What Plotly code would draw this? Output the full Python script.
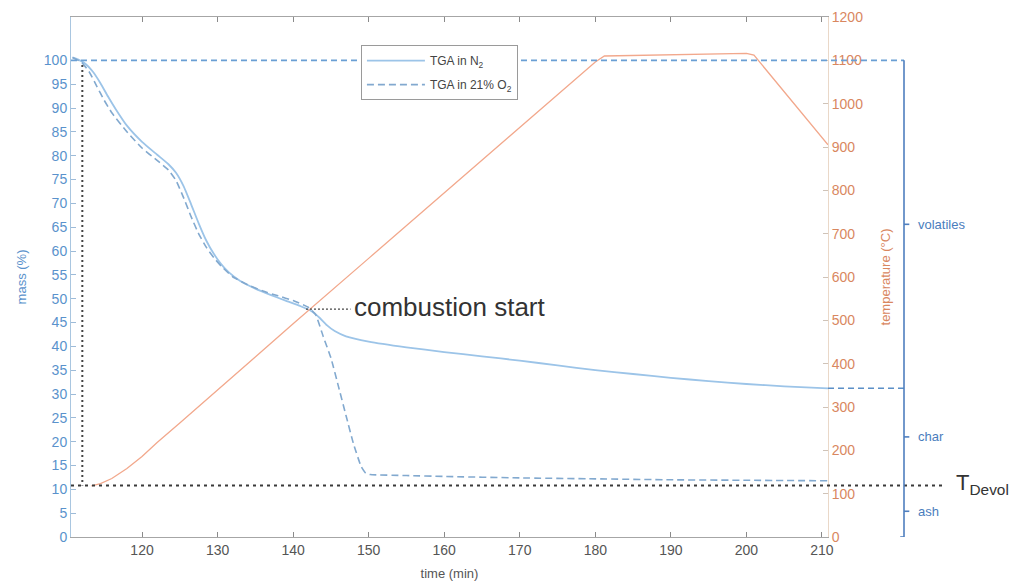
import plotly.graph_objects as go

# ---- TGA mass-loss curves (time in min, mass in %) ----
time_n2 = [110.8, 111.5, 112.5, 113.5, 114.5, 115.5, 116.5, 118, 120, 122, 123.5, 124.5,
           125.5, 126.5, 127.5, 128.5, 129.5, 130.5, 131.5, 133, 135, 137, 139, 141, 142.5, 143.5,
           144.5, 145.5, 147, 150, 155, 160, 165, 170, 175, 180, 185, 190, 195, 200, 205, 210.8]
mass_n2 = [100.6, 100.2, 99.3, 97.6, 95.2, 92.4, 89.8, 86.3, 82.9, 80.2, 78.2, 76.4,
           73.6, 69.8, 65.8, 62.2, 59.4, 57.2, 55.5, 53.7, 52.1, 50.8, 49.6, 48.4, 47.3, 46.0,
           44.4, 43.2, 42.1, 41.0, 39.8, 38.8, 37.9, 37.0, 36.0, 35.0, 34.2, 33.4, 32.7, 32.1, 31.6, 31.2]

time_o2 = [110.8, 112, 113, 114, 115, 116, 118, 120, 122, 123.5, 124.5, 125.5, 126.5, 127.5,
           128.5, 129.5, 130.5, 132, 134, 136, 138, 140, 142, 143, 144, 145, 146, 147, 148, 149,
           149.6, 150.2, 155, 160, 170, 180, 190, 200, 210.8]
mass_o2 = [100.6, 99.6, 97.6, 94.6, 91.6, 89.0, 85.0, 81.6, 79.0, 77.0, 74.8, 71.2, 67.2, 63.6,
           60.8, 58.6, 56.8, 54.6, 52.9, 51.6, 50.6, 49.6, 48.2, 46.6, 42.0, 37.6, 31.6, 25.5, 19.5, 14.8,
           13.4, 13.1, 12.9, 12.7, 12.4, 12.2, 12.0, 11.9, 11.8]

# ---- furnace temperature programme (°C) ----
time_temp = [113.3, 114.5, 116, 118, 120, 122, 125, 130, 140, 150, 160, 170, 180, 181.2,
             190, 200, 201, 210.8]
temp = [118, 123, 135, 158, 186, 218, 263, 340, 492, 643, 794, 945, 1096, 1110,
        1113, 1116, 1112, 905]

# ---- fraction boundaries and markers ----
volatiles_top = 100.0      # initial mass (%)
char_level = 31.2          # residual mass after devolatilisation in N2
devol_level = 10.8         # T_Devol / ash boundary
devol_start_time = 112.1   # onset of devolatilisation
combustion_time = 141.7
combustion_mass = 47.8
combustion_label_end = 147.6

time_ticks = list(range(120, 211, 10))
mass_ticks = list(range(0, 101, 5))
temp_ticks = list(range(0, 1201, 100))
fraction_labels = ["volatiles", "char", "ash"]

FONT = "Liberation Sans, Arial, sans-serif"
BLUE_TXT = "#5a92cc"
ORANGE_TXT = "#d9875f"
GRAY_TXT = "#555555"

fig = go.Figure()

fig.add_trace(go.Scatter(
    x=time_temp, y=temp, yaxis="y2", mode="lines",
    line=dict(color="#f2a88c", width=1.3), showlegend=False, hoverinfo="skip"))

fig.add_trace(go.Scatter(
    x=time_n2, y=mass_n2, mode="lines", name="TGA in N<sub>2</sub>",
    legendgroup="a", line=dict(color="#9cc4e8", width=1.8, shape="spline", smoothing=0.5)))

fig.add_trace(go.Scatter(
    x=time_o2, y=mass_o2, mode="lines", name="TGA in 21% O<sub>2</sub>",
    legendgroup="b", line=dict(color="#82a9cf", width=1.6, dash="7px,4px",
                               shape="spline", smoothing=0.4)))

# paper x position of the fraction bracket (right of the temperature axis)
bracket_x = 1.1004
shapes = []
# initial-mass line across the plot up to the bracket
shapes.append(dict(type="line", xref="paper", yref="y", x0=0, x1=bracket_x,
                   y0=volatiles_top, y1=volatiles_top,
                   line=dict(color="#6a9fd4", width=1.6, dash="6px,4px")))
# char boundary, outside the plot
shapes.append(dict(type="line", xref="paper", yref="y", x0=1.0, x1=bracket_x,
                   y0=char_level, y1=char_level,
                   line=dict(color="#5b8fc7", width=1.6, dash="6px,4px")))
# T_Devol dotted line
shapes.append(dict(type="line", xref="paper", yref="y", x0=0, x1=1.155,
                   y0=devol_level, y1=devol_level,
                   line=dict(color="#3a3a3a", width=1.8, dash="3px,4px")))
# onset of devolatilisation
shapes.append(dict(type="line", xref="x", yref="y", x0=devol_start_time, x1=devol_start_time,
                   y0=99.0, y1=devol_level,
                   line=dict(color="#444444", width=2, dash="2px,3px")))
# combustion start pointer
shapes.append(dict(type="line", xref="x", yref="y", x0=combustion_time, x1=combustion_label_end,
                   y0=combustion_mass, y1=combustion_mass,
                   line=dict(color="#444444", width=1.3, dash="2px,2px")))
# bracket spine and end hook
shapes.append(dict(type="line", xref="paper", yref="y", x0=bracket_x, x1=bracket_x,
                   y0=0, y1=volatiles_top, line=dict(color="#4f7fbf", width=1.6)))
shapes.append(dict(type="line", xref="paper", yref="y", x0=bracket_x - 0.005, x1=bracket_x,
                   y0=0, y1=0, line=dict(color="#4f7fbf", width=1.6)))

bounds = [volatiles_top, char_level, devol_level, 0.0]
annotations = []
for i, lab in enumerate(fraction_labels):
    mid = (bounds[i] + bounds[i + 1]) / 2
    shapes.append(dict(type="line", xref="paper", yref="y", x0=bracket_x, x1=bracket_x + 0.007,
                       y0=mid, y1=mid, line=dict(color="#4f7fbf", width=1.6)))
    annotations.append(dict(xref="paper", yref="y", x=bracket_x + 0.016, y=mid,
                            xanchor="left", yanchor="middle", text=lab, showarrow=False,
                            font=dict(family=FONT, size=13, color="#4a7dbd")))

annotations.append(dict(xref="paper", yref="y", x=1.167, y=devol_level + 0.3,
                        xanchor="left", yanchor="middle", showarrow=False,
                        text="T<sub>Devol</sub>",
                        font=dict(family=FONT, size=22, color="#333333")))
annotations.append(dict(xref="x", yref="y", x=combustion_label_end + 0.2, y=combustion_mass + 0.4,
                        xanchor="left", yanchor="middle", showarrow=False,
                        text="combustion start",
                        font=dict(family=FONT, size=26, color="#333333")))

fig.update_layout(
    width=1015, height=583,
    margin=dict(l=71, r=187, t=17, b=46, autoexpand=False),
    paper_bgcolor="white", plot_bgcolor="white",
    font=dict(family=FONT),
    shapes=shapes, annotations=annotations,
    showlegend=True,
    legend=dict(x=0.383, y=0.946, xanchor="left", yanchor="top",
                bgcolor="white", bordercolor="#9a9a9a", borderwidth=1,
                font=dict(family=FONT, size=12, color="#444444"),
                tracegroupgap=5, itemwidth=58),
    xaxis=dict(range=[110.6, 210.8], tickvals=time_ticks, ticks="inside", ticklen=5,
               tickcolor="#8a8a8a", showline=True, linecolor="#a6a6a6", linewidth=1,
               mirror="ticks", showgrid=False, zeroline=False, automargin=False,
               tickfont=dict(family=FONT, size=14, color=GRAY_TXT),
               title=dict(text="time (min)", font=dict(family=FONT, size=13, color=GRAY_TXT),
                          standoff=12)),
    yaxis=dict(range=[0, 1200 / 11], tickvals=mass_ticks, ticks="inside", ticklen=5,
               tickcolor="#9dbbd8", showline=True, linecolor="#a9c6e0", linewidth=1,
               showgrid=False, zeroline=False, automargin=False,
               tickfont=dict(family=FONT, size=14, color=BLUE_TXT),
               title=dict(text="mass (%)", font=dict(family=FONT, size=13, color=BLUE_TXT),
                          standoff=14)),
    yaxis2=dict(range=[0, 1200], tickvals=temp_ticks, overlaying="y", side="right",
                ticks="inside", ticklen=5, tickcolor="#cfc3b8", showline=True,
                linecolor="#ead8c8", linewidth=1, showgrid=False, zeroline=False,
                automargin=False,
                tickfont=dict(family=FONT, size=14, color=ORANGE_TXT),
                title=dict(text="temperature (°C)",
                           font=dict(family=FONT, size=13, color=ORANGE_TXT), standoff=18)),
)

fig.write_html("out.html")
